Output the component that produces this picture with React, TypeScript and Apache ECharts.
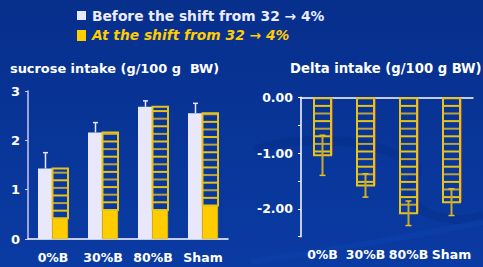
import React, { useEffect, useRef } from "react";
import * as echarts from "echarts";

const categories = ["0%B", "30%B", "80%B", "Sham"];
const beforeValues = [1.43, 2.16, 2.68, 2.55];
const beforeErrors = [0.32, 0.2, 0.12, 0.2];
const atShiftValues = [0.42, 0.59, 0.59, 0.68];
const deltaValues = [-1.04, -1.58, -2.08, -1.88];
const deltaErrors = [0.36, 0.21, 0.22, 0.24];
const leftTicks = [0, 1, 2, 3];
const rightTickLabels = ["0.00", "-1.00", "-2.00"];

const FONT = "DejaVu Sans";
const WHITE = "#e8e8fa";
const YELLOW = "#ffcc00";
const HATCH = "#e6c21a";
const HATCH2 = "#b9a23e";

function hatchRect(x: number, yTop: number, w: number, h: number, fromTop: boolean) {
  const children: any[] = [];
  const step = 7.6;
  const n = Math.floor(h / step);
  for (let i = 1; i <= n; i++) {
    const y = fromTop ? yTop + i * step : yTop + h - i * step;
    if (y <= yTop + 1 || y >= yTop + h - 1) continue;
    children.push({
      type: "line",
      shape: { x1: x, y1: y, x2: x + w, y2: y },
      style: { stroke: i % 2 ? HATCH : HATCH2, lineWidth: 2 },
    });
  }
  children.push({
    type: "rect",
    shape: { x, y: yTop, width: w, height: h },
    style: { fill: "none", stroke: HATCH, lineWidth: 2 },
  });
  return { type: "group", children };
}

export default function App() {
  const ref = useRef<HTMLDivElement>(null);
  useEffect(() => {
    if (!ref.current) return;
    const chart = echarts.init(ref.current, null, { renderer: "svg" });

    const hatchLeftData = categories.map((_, i) => [i, atShiftValues[i], beforeValues[i]]);
    const errLeftData = categories.map((_, i) => [i, beforeValues[i], beforeValues[i] + beforeErrors[i]]);
    const hatchRightData = categories.map((_, i) => [i, 0, deltaValues[i]]);
    const errRightData = categories.map((_, i) => [i, deltaValues[i] + deltaErrors[i], deltaValues[i] - deltaErrors[i]]);

    const axisLabelStyle = { color: "#ffffff", fontFamily: FONT, fontWeight: "bold" as const, fontSize: 12.5 };

    chart.setOption({
      animation: false,
      backgroundColor: new echarts.graphic.LinearGradient(0, 0, 0, 1, [
        { offset: 0, color: "#072f8c" },
        { offset: 1, color: "#0a3ba3" },
      ]),
      graphic: [
        {
          type: "bezierCurve",
          z: 0,
          shape: { x1: 255, y1: 150, x2: 420, y2: 170, cpx1: 300, cpy1: 135, cpx2: 380, cpy2: 135 },
          style: { stroke: "#062c84", lineWidth: 9, fill: "none", opacity: 0.4 },
        },
        {
          type: "bezierCurve",
          z: 0,
          shape: { x1: 420, y1: 170, x2: 483, y2: 215, cpx1: 380, cpy1: 205, cpx2: 450, cpy2: 230 },
          style: { stroke: "#062c84", lineWidth: 9, fill: "none", opacity: 0.35 },
        },
        {
          type: "bezierCurve",
          z: 0,
          shape: { x1: 250, y1: 262, x2: 483, y2: 222, cpx1: 330, cpy1: 250, cpx2: 420, cpy2: 235 },
          style: { stroke: "#0c42ad", lineWidth: 6, fill: "none", opacity: 0.5 },
        },
        { type: "rect", shape: { x: 77, y: 11, width: 9, height: 9 }, style: { fill: WHITE } },
        {
          type: "text",
          x: 92,
          y: 15.5,
          style: {
            text: "Before the shift from 32 → 4%",
            fill: "#ececff",
            font: `bold 13.8px "${FONT}"`,
            textVerticalAlign: "middle",
          },
        },
        { type: "rect", shape: { x: 77, y: 30, width: 9, height: 11 }, style: { fill: YELLOW } },
        {
          type: "text",
          x: 92,
          y: 35,
          style: {
            text: "At the shift from 32 → 4%",
            fill: YELLOW,
            font: `italic bold 13.8px "${FONT}"`,
            textVerticalAlign: "middle",
          },
        },
        {
          type: "text",
          x: 10,
          y: 68,
          style: {
            text: "sucrose intake (g/100 g  BW)",
            fill: "#ffffff",
            font: `bold 12.9px "${FONT}"`,
            textVerticalAlign: "middle",
          },
        },
        {
          type: "text",
          x: 290,
          y: 68,
          style: {
            text: "Delta intake (g/100 g BW)",
            fill: "#ffffff",
            font: `bold 13.2px "${FONT}"`,
            textVerticalAlign: "middle",
          },
        },
      ],
      grid: [
        { left: 28, top: 91, width: 200, height: 148 },
        { left: 301, top: 97.3, width: 172, height: 139.4 },
      ],
      xAxis: [
        {
          gridIndex: 0,
          type: "category",
          data: categories,
          axisLine: { lineStyle: { color: "#ffffff", width: 1.5 } },
          axisTick: { show: false },
          axisLabel: { ...axisLabelStyle, margin: 12, interval: 0 },
        },
        {
          gridIndex: 1,
          type: "category",
          data: categories,
          position: "bottom",
          axisLine: { show: false, onZero: false },
          axisTick: { show: false },
          axisLabel: { ...axisLabelStyle, margin: 11, interval: 0 },
        },
        {
          gridIndex: 1,
          type: "category",
          data: categories,
          position: "top",
          axisLine: { show: true, onZero: false, lineStyle: { color: "#ffffff", width: 1.5 } },
          axisTick: { show: false },
          axisLabel: { show: false },
        },
      ],
      yAxis: [
        {
          gridIndex: 0,
          type: "value",
          min: leftTicks[0],
          max: leftTicks[leftTicks.length - 1],
          interval: 1,
          splitLine: { show: false },
          axisLine: { show: true, lineStyle: { color: "#c8c8ee", width: 1.5 } },
          axisTick: { show: true, length: 3, lineStyle: { color: "#c8c8ee" } },
          axisLabel: { ...axisLabelStyle, fontSize: 13, margin: 8 },
        },
        {
          gridIndex: 1,
          type: "value",
          min: -2.5,
          max: 0,
          interval: 0.5,
          splitLine: { show: false },
          axisLine: { show: true, onZero: false, lineStyle: { color: "#ffffff", width: 1.5 } },
          axisTick: { show: true, length: 3, lineStyle: { color: "#ffffff" } },
          axisLabel: {
            ...axisLabelStyle,
            margin: 8,
            formatter: (v: number) => {
              const s = v.toFixed(2);
              return rightTickLabels.indexOf(s) >= 0 ? s : "";
            },
          },
        },
      ],
      series: [
        {
          type: "bar",
          xAxisIndex: 0,
          yAxisIndex: 0,
          data: beforeValues,
          barWidth: 14,
          barGap: "0%",
          itemStyle: { color: WHITE },
          z: 3,
        },
        {
          type: "bar",
          xAxisIndex: 0,
          yAxisIndex: 0,
          data: atShiftValues,
          stack: "s",
          barWidth: 16,
          barGap: "0%",
          itemStyle: { color: YELLOW, borderColor: "#e0b800", borderWidth: 0.5 },
          z: 3,
        },
        {
          type: "custom",
          xAxisIndex: 0,
          yAxisIndex: 0,
          data: hatchLeftData,
          z: 4,
          renderItem: (params: any, api: any) => {
            const c = api.value(0);
            const top = api.coord([c, api.value(2)]);
            const bot = api.coord([c, api.value(1)]);
            return hatchRect(top[0] - 0.5, top[1], 15.5, bot[1] - top[1], false);
          },
        },
        {
          type: "custom",
          xAxisIndex: 0,
          yAxisIndex: 0,
          data: errLeftData,
          z: 5,
          renderItem: (params: any, api: any) => {
            const c = api.value(0);
            const a = api.coord([c, api.value(1)]);
            const b = api.coord([c, api.value(2)]);
            const x = a[0] - 7.5;
            return {
              type: "group",
              children: [
                { type: "line", shape: { x1: x, y1: a[1], x2: x, y2: b[1] }, style: { stroke: "#e8e8ff", lineWidth: 1.5 } },
                { type: "line", shape: { x1: x - 2.5, y1: b[1], x2: x + 2.5, y2: b[1] }, style: { stroke: "#e8e8ff", lineWidth: 1.5 } },
              ],
            };
          },
        },
        {
          type: "custom",
          xAxisIndex: 1,
          yAxisIndex: 1,
          data: hatchRightData,
          z: 4,
          renderItem: (params: any, api: any) => {
            const c = api.value(0);
            const top = api.coord([c, api.value(1)]);
            const bot = api.coord([c, api.value(2)]);
            const g: any = hatchRect(top[0] - 8.5, top[1] + 1, 17, bot[1] - top[1] - 1, true);
            g.children.unshift({
              type: "line",
              shape: { x1: top[0] + 9.5, y1: top[1] + 1, x2: top[0] + 9.5, y2: bot[1] },
              style: { stroke: "#c85a3a", lineWidth: 1.2 },
            });
            return g;
          },
        },
        {
          type: "custom",
          xAxisIndex: 1,
          yAxisIndex: 1,
          data: errRightData,
          z: 5,
          renderItem: (params: any, api: any) => {
            const c = api.value(0);
            const a = api.coord([c, api.value(1)]);
            const b = api.coord([c, api.value(2)]);
            const x = a[0];
            const col = "#c9aa2c";
            return {
              type: "group",
              children: [
                { type: "line", shape: { x1: x, y1: a[1], x2: x, y2: b[1] }, style: { stroke: col, lineWidth: 2 } },
                { type: "line", shape: { x1: x - 3, y1: a[1], x2: x + 3, y2: a[1] }, style: { stroke: "#e8c21a", lineWidth: 1.5 } },
                { type: "line", shape: { x1: x - 3, y1: b[1], x2: x + 3, y2: b[1] }, style: { stroke: "#e8c21a", lineWidth: 1.5 } },
              ],
            };
          },
        },
      ],
    });
    return () => chart.dispose();
  }, []);
  return (
    <div
      ref={ref}
      style={{ position: "fixed", left: 0, top: 0, width: 483, height: 267 }}
    />
  );
}
